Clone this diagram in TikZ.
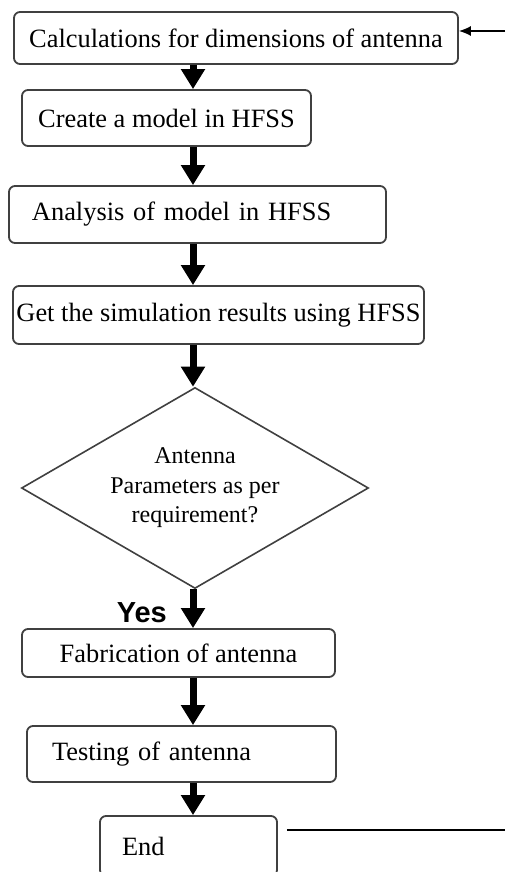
\documentclass[tikz,border=0pt]{standalone}
\usepackage{fontspec}
\setmainfont{Liberation Serif}
\newfontfamily\labelfont{Liberation Sans}
\usetikzlibrary{positioning}
\usetikzlibrary{shapes.geometric}
\usetikzlibrary{arrows.meta}
\colorlet{boxcol}{black!75}

\begin{document}
\begin{tikzpicture}[x=0.5pt, y=-0.5pt,
    stepbox/.style={draw=boxcol, line width=0.9pt, rounded corners=3pt, inner sep=0pt,
      font=\fontsize{13.2}{15}\selectfont},
    decision/.style={draw=boxcol, line width=0.8pt, diamond, aspect=1.73, inner sep=0pt,
      align=center, font=\fontsize{12}{14.75}\selectfont},
    flow/.style={line width=3.5pt, -{Triangle[width=11.5pt,length=10pt]}},
    back/.style={line width=0.7pt, -{Latex[length=6pt,width=5pt]}}]
        % 1. Page frame (px of the reference, 1px = 0.5pt)
        \useasboundingbox (0,0) rectangle (505,872);
        \clip (0,0) rectangle (505,872);
        \coordinate (spine) at (193,0);

        % 2. Process boxes
        \node[stepbox, minimum width=222pt, minimum height=26pt] (calc) at (236,38)
            {Calculations for dimensions of antenna};
        \node[stepbox, minimum width=144.5pt, minimum height=28pt] (model) at (166.5,118)
            {Create a model in HFSS};
        \node[stepbox, minimum height=28.5pt, inner xsep=11.5pt, text width=165.5pt, align=left]
            (analysis) at (197.5,214.5) {Analysis of model in HFSS};
        \node[stepbox, minimum width=205.5pt, minimum height=29pt] (results) at (218.5,315)
            {Get the simulation results using HFSS};

        % 3. Decision
        \node[decision, minimum width=173.5pt, minimum height=100.5pt] (check) at (195,488)
            {Antenna\\Parameters as per\\requirement?};

        % 4. After the check
        \node[stepbox, minimum width=156.5pt, minimum height=24pt] (fab) at (178.5,653)
            {Fabrication of antenna};
        \node[stepbox, minimum height=28pt, inner xsep=12.5pt, text width=129.5pt, align=left]
            (test) at (181.5,754) {Testing of antenna};
        \node[stepbox, minimum height=30pt, inner xsep=11pt, text width=66.5pt, align=left]
            (end) at (188.5,846) {End};

        % 5. Main flow
        \draw[flow] (calc.south -| spine) -- (model.north -| spine);
        \draw[flow] (model.south -| spine) -- (analysis.north -| spine);
        \draw[flow] (analysis.south -| spine) -- (results.north -| spine);
        \draw[flow] (results.south -| spine) -- (check.north -| spine);
        \draw[flow] (check.south -| spine) -- (fab.north -| spine)
            node[midway, left=8pt, yshift=-2pt,
                 font=\labelfont\bfseries\fontsize{14.5}{16}\selectfont] (yes) {Yes};
        \draw[flow] (fab.south -| spine) -- (test.north -| spine);
        \draw[flow] (test.south -| spine) -- (end.north -| spine);

        % 6. Loop back lines at the right edge
        \coordinate (backin) at (505,31);
        \coordinate (backout) at (505,830);
        \draw[back] (backin) -- (calc.east |- backin);
        \draw[line width=0.7pt] ([xshift=4.5pt]end.east |- backout) -- (backout);
    \end{tikzpicture}
\end{document}
